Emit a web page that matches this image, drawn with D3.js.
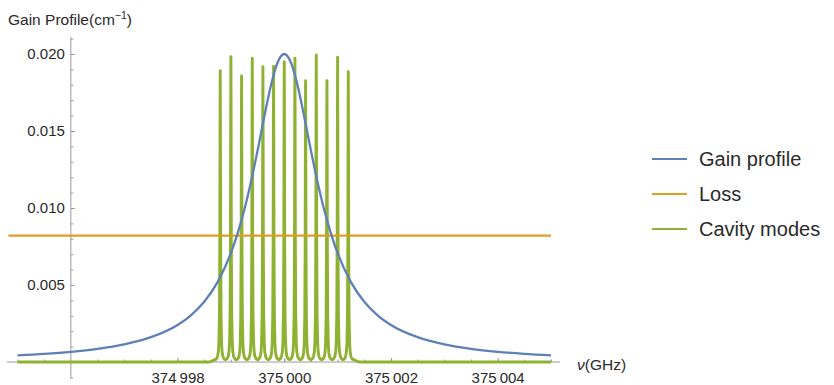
<!DOCTYPE html>
<html>
<head>
<meta charset="utf-8">
<script src="https://cdn.jsdelivr.net/npm/d3@7"></script>
<style>
  body { margin: 0; background: #fff; }
  text { font-family: 'Liberation Sans', Arial, sans-serif; fill: #2a2a2a; }
</style>
</head>
<body>
<div id="chart"></div>
<script>
// gain profile
let gainFreq = [374995, 374995.5, 374996, 374996.5, 374997, 374997.5, 374998, 374998.25,
  374998.5, 374998.75, 374999, 374999.125, 374999.25, 374999.375, 374999.5, 374999.625,
  374999.75, 374999.875, 375000, 375000.125, 375000.25, 375000.375, 375000.5, 375000.625,
  375000.75, 375000.875, 375001, 375001.25, 375001.5, 375001.75, 375002, 375002.5,
  375003, 375003.5, 375004, 375004.5, 375005]
let gainValue = [0.000429, 0.000527, 0.000662, 0.000856, 0.001147, 0.001611, 0.002408, 0.003034,
  0.003915, 0.00519, 0.007077, 0.008339, 0.009866, 0.011673, 0.01373, 0.015914,
  0.01795, 0.019445, 0.02, 0.019445, 0.01795, 0.015914, 0.01373, 0.011673,
  0.009866, 0.008339, 0.007077, 0.00519, 0.003915, 0.003034, 0.002408, 0.001611,
  0.001147, 0.000856, 0.000662, 0.000527, 0.000429]

// loss level
let lossFreq = [374994.83, 375005]
let lossValue = 0.0082

// cavity modes: centre and peak height
let modeFreq = [374998.8, 374999.0, 374999.2, 374999.4, 374999.6, 374999.8, 375000.0,
  375000.2, 375000.4, 375000.6, 375000.8, 375001.0, 375001.2]
let modePeak = [0.01892, 0.01982, 0.01857, 0.01972, 0.01918, 0.0192, 0.0195,
  0.01972, 0.01827, 0.01994, 0.01827, 0.01979, 0.01885]
// shape of one mode (offset in GHz, fraction of peak)
let modeOffset = [-0.1, -0.075, -0.05, -0.035, -0.025, -0.015, -0.008, -0.003, 0,
  0.003, 0.008, 0.015, 0.025, 0.035, 0.05, 0.075]
let modeShape = [0.008, 0.01, 0.0185, 0.035, 0.065, 0.158, 0.398, 0.824, 1,
  0.824, 0.398, 0.158, 0.065, 0.035, 0.0185, 0.01]
let cavityRange = [374995, 375005]

let xTicks = [374998, 375000, 375002, 375004]
let yTicks = [0.005, 0.01, 0.015, 0.02]
let legendLabels = ['Gain profile', 'Loss', 'Cavity modes']
let colors = ['#5e81b5', '#e19c24', '#8fb131']

let width = 834
let height = 385

let svg = d3.select('#chart')
  .append('svg')
  .attr('width', width)
  .attr('height', height)

let xPositionScale = d3.scaleLinear().domain([374995, 375005]).range([17.5, 551])
let yPositionScale = d3.scaleLinear().domain([0, 0.02]).range([362, 54])

let line = d3.line()
  .x(d => xPositionScale(d[0]))
  .y(d => yPositionScale(d[1]))

// axes lines (cross at 374996, 0)
let originX = xPositionScale(374996)
let axisColor = '#9a9a9a'

svg.append('line')
  .attr('x1', xPositionScale(374994.8)).attr('x2', xPositionScale(375005.17))
  .attr('y1', yPositionScale(0)).attr('y2', yPositionScale(0))
  .attr('stroke', axisColor)

svg.append('line')
  .attr('x1', originX).attr('x2', originX)
  .attr('y1', yPositionScale(0.0211)).attr('y2', yPositionScale(-0.0011))
  .attr('stroke', axisColor)

// x minor ticks
let xMinor = d3.range(374995, 375005.01, 0.5).filter(d => d !== 374996)
svg.append('g')
  .attr('class', 'axis')
  .attr('transform', `translate(0,${yPositionScale(0)})`)
  .call(d3.axisBottom(xPositionScale).tickValues(xMinor).tickSize(-2.5).tickFormat(''))

// x major ticks + labels
let xFormat = d => { let s = String(d); return s.slice(0, 3) + '\u2009' + s.slice(3) }
svg.append('g')
  .attr('class', 'axis x-axis')
  .attr('transform', `translate(0,${yPositionScale(0)})`)
  .call(d3.axisBottom(xPositionScale).tickValues(xTicks).tickSize(-4).tickPadding(10).tickFormat(xFormat))

// y minor ticks
let yMinor = d3.range(-1, 22).map(d => d / 1000).filter(d => d !== 0)
svg.append('g')
  .attr('class', 'axis')
  .attr('transform', `translate(${originX},0)`)
  .call(d3.axisLeft(yPositionScale).tickValues(yMinor).tickSize(-2.5).tickFormat(''))

// y major ticks + labels
svg.append('g')
  .attr('class', 'axis y-axis')
  .attr('transform', `translate(${originX},0)`)
  .call(d3.axisLeft(yPositionScale).tickValues(yTicks).tickSize(-4).tickPadding(6).tickFormat(d3.format('.3f')))

svg.selectAll('.domain').remove()
svg.selectAll('.axis line').attr('stroke', axisColor)
svg.selectAll('.axis text')
  .attr('font-size', 15)
  .attr('fill', '#2a2a2a')
  .attr('font-family', "'Liberation Sans', Arial, sans-serif")

// cavity modes
let cavityPoints = [[cavityRange[0], 0], [modeFreq[0] - 0.2, 0]]
modeFreq.forEach((f, i) => {
  modeOffset.forEach((o, j) => {
    cavityPoints.push([f + o, modePeak[i] * modeShape[j]])
  })
})
let lastMode = modeFreq.length - 1
cavityPoints.push([modeFreq[lastMode] + 0.1, modePeak[lastMode] * modeShape[0]])
cavityPoints.push([modeFreq[lastMode] + 0.2, 0])
cavityPoints.push([cavityRange[1], 0])

svg.append('path')
  .datum(cavityPoints)
  .attr('d', line)
  .attr('fill', 'none')
  .attr('stroke', colors[2])
  .attr('stroke-width', 2.9)
  .attr('stroke-linejoin', 'round')

// loss
svg.append('path')
  .datum(lossFreq.map(f => [f, lossValue]))
  .attr('d', line)
  .attr('fill', 'none')
  .attr('stroke', colors[1])
  .attr('stroke-width', 2.2)

// gain profile
svg.append('path')
  .datum(gainFreq.map((f, i) => [f, gainValue[i]]))
  .attr('d', line.curve(d3.curveMonotoneX))
  .attr('fill', 'none')
  .attr('stroke', colors[0])
  .attr('stroke-width', 2.3)

// axis labels
let yLabel = svg.append('text')
  .attr('x', 8)
  .attr('y', 25)
  .attr('font-size', 15.5)
yLabel.append('tspan').text('Gain Profile(cm')
yLabel.append('tspan').attr('font-size', 10.5).attr('dy', -6).text('\u22121')
yLabel.append('tspan').attr('dy', 6).text(')')

let xLabel = svg.append('text')
  .attr('x', 577)
  .attr('y', 370)
  .attr('font-size', 15.5)
xLabel.append('tspan').attr('font-style', 'italic').text('\u03bd')
xLabel.append('tspan').text('(GHz)')

// legend
let legend = svg.append('g')
  .selectAll('g')
  .data(legendLabels)
  .enter()
  .append('g')
  .attr('transform', (d, i) => `translate(652,${159 + i * 35})`)

legend.append('line')
  .attr('x1', 0).attr('x2', 35)
  .attr('stroke', (d, i) => colors[i])
  .attr('stroke-width', 2)

legend.append('text')
  .attr('x', 47)
  .attr('dy', '0.35em')
  .attr('font-size', 20)
  .text(d => d)
</script>
</body>
</html>
